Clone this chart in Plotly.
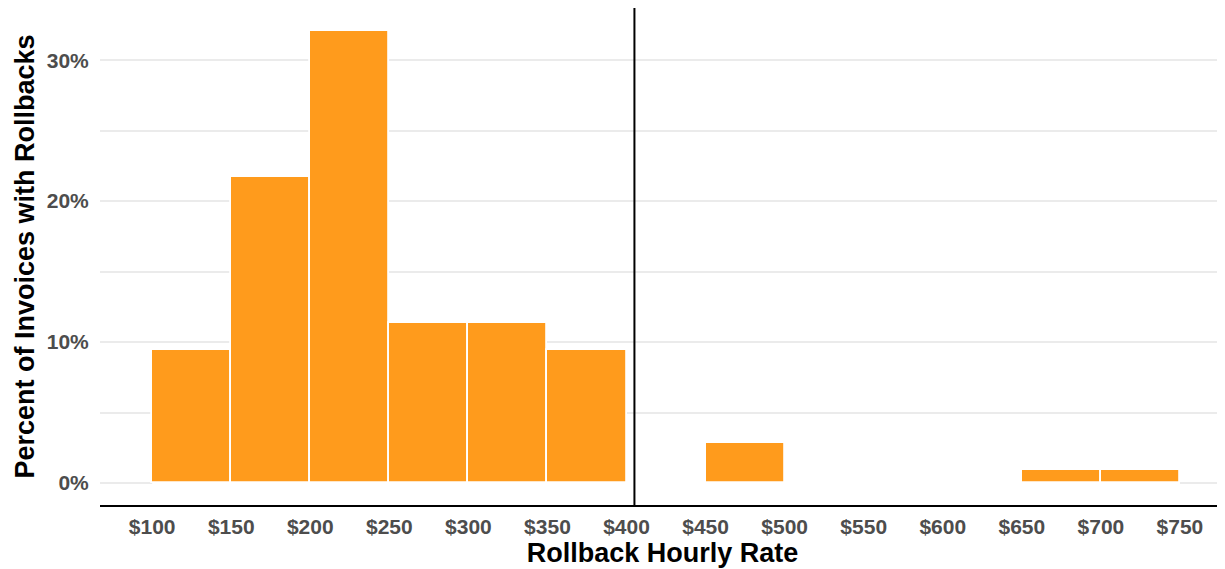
import plotly.graph_objects as go

bin_starts = [100, 150, 200, 250, 300, 350, 400, 450, 500, 550, 600, 650, 700]
bin_width = 50
pct_values = [9.43, 21.70, 32.08, 11.32, 11.32, 9.43, 0, 2.83, 0, 0, 0, 0.94, 0.94]
x_tick_vals = [100, 150, 200, 250, 300, 350, 400, 450, 500, 550, 600, 650, 700, 750]
x_tick_text = ["$" + str(v) for v in x_tick_vals]
y_tick_vals = [0, 10, 20, 30]
y_tick_text = ["0%", "10%", "20%", "30%"]
reference_rate = 405

centers = [b + bin_width / 2 for b in bin_starts]
bins_end = bin_starts[-1] + bin_width

fig = go.Figure()
fig.add_trace(go.Bar(
    x=centers, y=pct_values, width=bin_width,
    marker=dict(color="#FF9B1C", line=dict(color="white", width=1.8)),
    hoverinfo="skip",
))
# white outline of zero-height bins (covers the 0% gridline like ggplot does)
fig.add_trace(go.Scatter(
    x=[bin_starts[0], bins_end], y=[0, 0], mode="lines",
    line=dict(color="white", width=2), hoverinfo="skip",
))
fig.add_vline(x=reference_rate, line=dict(color="black", width=2))

fig.update_layout(
    width=1217, height=561,
    margin=dict(l=92, r=0, t=0, b=64, autoexpand=False),
    plot_bgcolor="white", paper_bgcolor="white",
    showlegend=False,
    bargap=0,
    font=dict(family="Liberation Sans, Arial, sans-serif"),
    xaxis=dict(
        range=[67, 778.5],
        tickvals=x_tick_vals, ticktext=x_tick_text,
        tickfont=dict(size=21, color="#4D4D4D", weight="bold"),
        showgrid=False, zeroline=False, automargin=False,
        showline=True, linecolor="black", linewidth=2,
        ticks="outside", ticklen=2, tickcolor="rgba(0,0,0,0)",
        title=dict(text="<b>Rollback Hourly Rate</b>", font=dict(size=27, color="black"), standoff=3),
    ),
    yaxis=dict(
        range=[-1.56, 33.7],
        tickvals=y_tick_vals, ticktext=y_tick_text,
        tickfont=dict(size=21, color="#4D4D4D", weight="bold"),
        showgrid=True, gridcolor="#EBEBEB", gridwidth=2,
        minor=dict(dtick=5, tick0=0, showgrid=True, gridcolor="#EBEBEB", gridwidth=2),
        zeroline=False, showline=False, automargin=False,
        ticks="outside", ticklen=6, tickcolor="rgba(0,0,0,0)",
        title=dict(text="<b>Percent of Invoices with Rollbacks</b>", font=dict(size=27, color="black"), standoff=4),
    ),
)

fig.write_html("out.html")
